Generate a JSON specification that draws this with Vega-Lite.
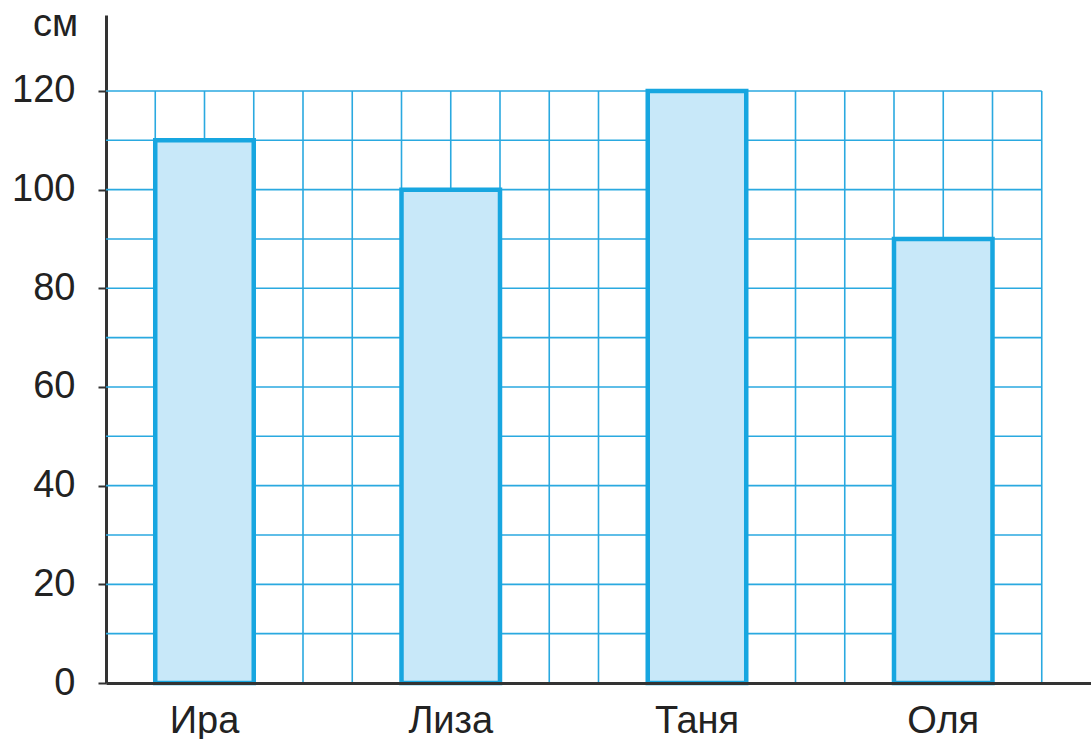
{
  "$schema": "https://vega.github.io/schema/vega-lite/v6.json",
  "autosize": {"type": "none"},
  "padding": {"left": 106, "top": 15, "right": 0, "bottom": 56},
  "width": 985,
  "height": 668,
  "background": "white",
  "config": {
    "view": {"stroke": null},
    "font": "Liberation Sans",
    "axisY": {
      "grid": false,
      "titleAngle": 0, "titleAlign": "center", "titleBaseline": "alphabetic",
      "titleX": -51, "titleY": 20, "titleFontSize": 38, "titleFontWeight": "normal",
      "titleColor": "#222222", "titleFont": "Liberation Sans",
      "labelFontSize": 38, "labelColor": "#222222", "labelFont": "Liberation Sans",
      "labelPadding": 23, "tickSize": 8, "tickColor": "#333333", "tickWidth": 2,
      "domainColor": "#333333", "domainWidth": 3, "zindex": 2
    }
  },
  "datasets": {
    "heights": [
      {"name": "Ира", "cm": 110},
      {"name": "Лиза", "cm": 100},
      {"name": "Таня", "cm": 120},
      {"name": "Оля", "cm": 90}
    ],
    "vcols": [
      {"col": 1}, {"col": 2}, {"col": 3}, {"col": 4}, {"col": 5}, {"col": 6}, {"col": 7},
      {"col": 8}, {"col": 9}, {"col": 10}, {"col": 11}, {"col": 12}, {"col": 13},
      {"col": 14}, {"col": 15}, {"col": 16}, {"col": 17}, {"col": 18}, {"col": 19}
    ],
    "hrows": [
      {"v": 10}, {"v": 20}, {"v": 30}, {"v": 40}, {"v": 50}, {"v": 60},
      {"v": 70}, {"v": 80}, {"v": 90}, {"v": 100}, {"v": 110}, {"v": 120}
    ]
  },
  "layer": [
    {
      "data": {"name": "vcols"},
      "mark": {"type": "rule", "color": "#2AA9E0", "strokeWidth": 1.6},
      "encoding": {
        "x": {"field": "col", "type": "quantitative", "scale": {"domain": [0, 20], "nice": false, "zero": false}, "axis": null},
        "y": {"datum": 0, "type": "quantitative", "scale": {"domain": [0, 135.4], "nice": false}, "axis": {"title": "см", "values": [0, 20, 40, 60, 80, 100, 120]}},
        "y2": {"datum": 120}
      }
    },
    {
      "data": {"name": "hrows"},
      "mark": {"type": "rule", "color": "#2AA9E0", "strokeWidth": 1.6},
      "encoding": {
        "y": {"field": "v", "type": "quantitative", "scale": {"domain": [0, 135.4], "nice": false}, "axis": {"title": "см", "values": [0, 20, 40, 60, 80, 100, 120]}},
        "x": {"datum": 0, "type": "quantitative", "scale": {"domain": [0, 20], "nice": false, "zero": false}, "axis": null},
        "x2": {"datum": 19}
      }
    },
    {
      "data": {"name": "heights"},
      "mark": {"type": "bar", "fill": "#C8E8F9", "stroke": "#17A6E0", "strokeWidth": 4.5},
      "encoding": {
        "x": {
          "field": "name", "type": "nominal", "sort": null,
          "scale": {"paddingInner": 0.6, "paddingOuter": 0.3, "align": 0.3333, "round": false},
          "axis": {
            "title": null, "ticks": false, "labelAngle": 0,
            "labelFontSize": 38, "labelColor": "#222222", "labelFont": "Liberation Sans",
            "labelBaseline": "alphabetic", "labelPadding": 49,
            "domainColor": "#333333", "domainWidth": 3, "zindex": 2
          }
        },
        "y": {
          "field": "cm", "type": "quantitative",
          "scale": {"domain": [0, 135.4], "nice": false},
          "axis": {"title": "см", "values": [0, 20, 40, 60, 80, 100, 120]}
        }
      }
    }
  ],
  "resolve": {"scale": {"x": "independent"}, "axis": {"x": "independent"}}
}
